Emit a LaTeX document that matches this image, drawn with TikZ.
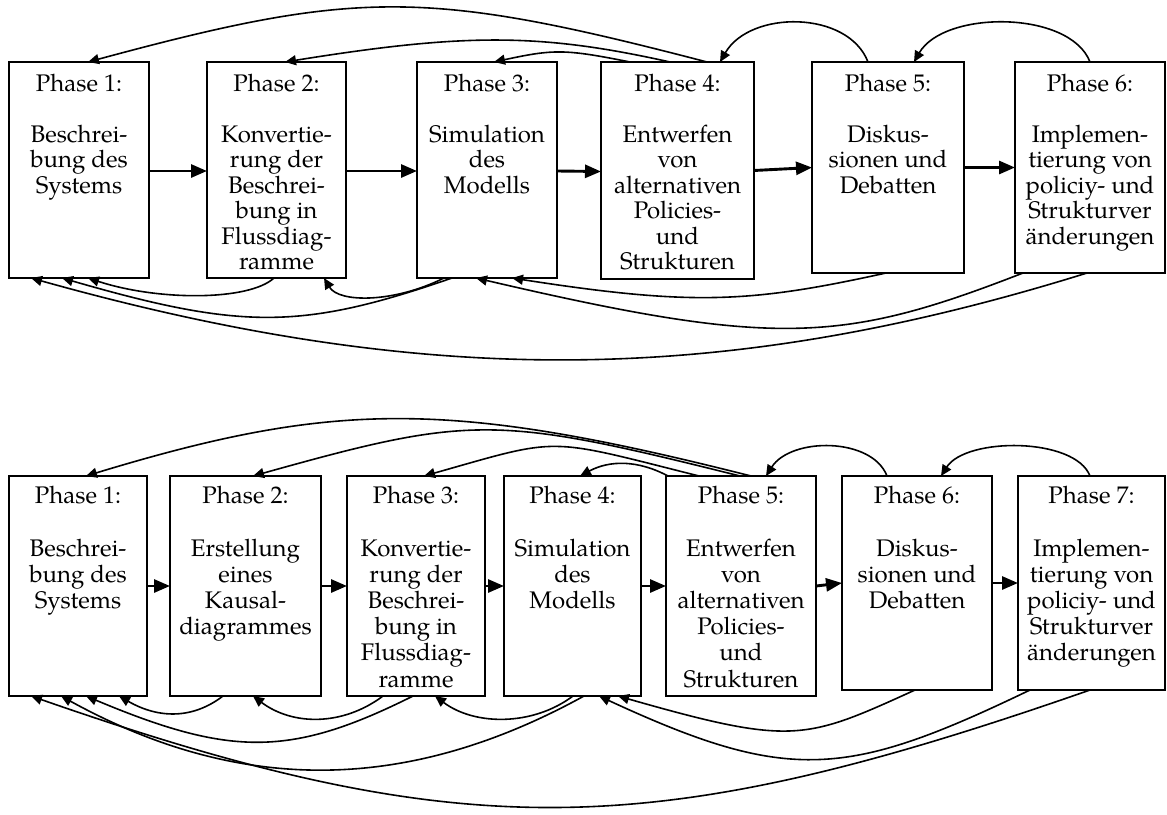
\documentclass[tikz,border=0pt]{standalone}
\usepackage{fontspec}
\setmainfont{TeX Gyre Pagella}
\usetikzlibrary{arrows.meta}
\begin{document}
\begin{tikzpicture}[x=1pt,y=-1pt,
  box/.style={draw, line width=2.9pt, inner sep=0pt, outer sep=0pt, anchor=north west},
  txt/.style={align=center, inner sep=0pt, anchor=north, font=\fontsize{24}{25.4}\selectfont},
  txtb/.style={align=center, inner sep=0pt, anchor=north, font=\fontsize{24}{26.2}\selectfont},
  flow/.style={line width=2.9pt, -{Triangle[length=16pt,width=13pt]}},
  fb/.style={line width=1.6pt, -{Triangle[length=11pt,width=10pt]}},
]
\fill[white] (0,0) rectangle (1167,814);
\useasboundingbox (0,0) rectangle (1167,814);

% ---------- upper process: six phases ----------
\node[box, minimum width=140pt, minimum height=216pt] (T1) at (9,62) {};
\node[box, minimum width=139pt, minimum height=216pt] (T2) at (207,62) {};
\node[box, minimum width=140pt, minimum height=216pt] (T3) at (417,62) {};
\node[box, minimum width=153pt, minimum height=217pt] (T4) at (601,62) {};
\node[box, minimum width=152pt, minimum height=211pt] (T5) at (812,62) {};
\node[box, minimum width=150pt, minimum height=211pt] (T6) at (1015,62) {};

\node[txt] (T1t) at ([yshift=-12pt]T1.north) {Phase 1:\\[25.4pt]Beschrei-\\bung des\\Systems};
\node[txt] (T2t) at ([yshift=-12pt]T2.north) {Phase 2:\\[25.4pt]Konvertie-\\rung der\\Beschrei-\\bung in\\Flussdiag-\\ramme};
\node[txt] (T3t) at ([yshift=-12pt]T3.north) {Phase 3:\\[25.4pt]Simulation\\des\\Modells};
\node[txt] (T4t) at ([yshift=-12pt]T4.north) {Phase 4:\\[25.4pt]Entwerfen\\von\\alternativen\\Policies-\\und\\Strukturen};
\node[txt] (T5t) at ([yshift=-12pt]T5.north) {Phase 5:\\[25.4pt]Diskus-\\sionen und\\Debatten};
\node[txt] (T6t) at ([yshift=-12pt]T6.north) {Phase 6:\\[25.4pt]Implemen-\\tierung von\\policiy- und\\Strukturver\\änderungen};

\draw[flow] ([yshift=-1pt]T1.east) -- ([yshift=-1pt]T2.west);
\draw[flow] ([yshift=-1pt]T2.east) -- ([yshift=-1pt]T3.west);
\draw[flow] ([yshift=-1pt]T3.east) -- ([yshift=-1pt]T4.west);
\draw[flow] (T4.east) -- (T5.west);
\draw[flow] (T5.east) -- (T6.west);

% feedback over the top
\draw[fb] ([xshift=106pt]T4.north west) .. controls +(-280,-73) and +(270,-73) .. ([xshift=79pt]T1.north west);
\draw[fb] ([xshift=69pt]T4.north west) .. controls +(-130,-29) and +(180,-29) .. ([xshift=78pt]T2.north west);
\draw[fb] ([xshift=29pt]T4.north west) .. controls +(-65,-13) and +(60,-13) .. ([xshift=77pt]T3.north west);
\draw[fb] ([xshift=56pt]T5.north west) .. controls +(-20,-52) and +(30,-52) .. ([xshift=119pt]T4.north west);
\draw[fb] ([xshift=75pt]T6.north west) .. controls +(-20,-52) and +(30,-52) .. ([xshift=102pt]T5.north west);

% feedback underneath
\draw[fb] ([xshift=67pt]T2.south west) .. controls +(-25,23) and +(70,23) .. ([xshift=79pt]T1.south west);
\draw[fb] ([xshift=27pt]T3.south west) .. controls +(-50,25) and +(15,25) .. ([xshift=117pt]T2.south west);
\draw[fb] ([xshift=35pt]T3.south west) .. controls +(-150,52) and +(180,52) .. ([xshift=53pt]T1.south west);
\draw[fb] ([xshift=74pt]T5.south west) .. controls +(-136,30) and +(180,28) .. ([xshift=95pt]T3.south west);
\draw[fb] ([xshift=8pt]T6.south west) .. controls +(-180,70) and +(300,70) .. ([xshift=59pt]T3.south west);
\draw[fb] ([xshift=72pt]T6.south west) .. controls +(-360,112) and +(400,112) .. ([xshift=22pt]T1.south west);

% ---------- lower process: seven phases ----------
\node[box, minimum width=138pt, minimum height=220pt] (U1) at (9,476) {};
\node[box, minimum width=151pt, minimum height=220pt] (U2) at (170,476) {};
\node[box, minimum width=138pt, minimum height=220pt] (U3) at (347,476) {};
\node[box, minimum width=137pt, minimum height=220pt] (U4) at (504,476) {};
\node[box, minimum width=150pt, minimum height=220pt] (U5) at (666,476) {};
\node[box, minimum width=150pt, minimum height=214pt] (U6) at (842,476) {};
\node[box, minimum width=147pt, minimum height=214pt] (U7) at (1018,476) {};

\node[txtb] (U1t) at ([yshift=-10pt]U1.north) {Phase 1:\\[26.2pt]Beschrei-\\bung des\\Systems};
\node[txtb] (U2t) at ([yshift=-10pt]U2.north) {Phase 2:\\[26.2pt]Erstellung\\eines\\Kausal-\\diagrammes};
\node[txtb] (U3t) at ([yshift=-10pt]U3.north) {Phase 3:\\[26.2pt]Konvertie-\\rung der\\Beschrei-\\bung in\\Flussdiag-\\ramme};
\node[txtb] (U4t) at ([yshift=-10pt]U4.north) {Phase 4:\\[26.2pt]Simulation\\des\\Modells};
\node[txtb] (U5t) at ([yshift=-10pt]U5.north) {Phase 5:\\[26.2pt]Entwerfen\\von\\alternativen\\Policies-\\und\\Strukturen};
\node[txtb] (U6t) at ([yshift=-10pt]U6.north) {Phase 6:\\[26.2pt]Diskus-\\sionen und\\Debatten};
\node[txtb] (U7t) at ([yshift=-10pt]U7.north) {Phase 7:\\[26.2pt]Implemen-\\tierung von\\policiy- und\\Strukturver\\änderungen};

\draw[flow] (U1.east) -- (U2.west);
\draw[flow] (U2.east) -- (U3.west);
\draw[flow] (U3.east) -- (U4.west);
\draw[flow] (U4.east) -- (U5.west);
\draw[flow] (U5.east) -- (U6.west);
\draw[flow] (U6.east) -- (U7.west);

% feedback over the top
\draw[fb] ([xshift=85pt]U5.north west) .. controls +(-300,-76) and +(250,-76) .. ([xshift=77pt]U1.north west);
\draw[fb] ([xshift=74pt]U5.north west) .. controls +(-244,-61) and +(218,-61) .. ([xshift=83pt]U2.north west);
\draw[fb] ([xshift=33pt]U5.north west) .. controls +(-155,-39) and +(138,-39) .. ([xshift=77pt]U3.north west);
\draw[fb] ([xshift=2pt]U5.north west) .. controls +(-30,-16) and +(30,-16) .. ([xshift=76pt]U4.north west);
\draw[fb] ([xshift=45pt]U6.north west) .. controls +(-15,-39) and +(25,-39) .. ([xshift=100pt]U5.north west);
\draw[fb] ([xshift=72pt]U7.north west) .. controls +(-15,-39) and +(25,-39) .. ([xshift=99pt]U6.north west);

% feedback underneath
\draw[fb] ([xshift=53pt]U2.south west) .. controls +(-30,23) and +(40,23) .. ([xshift=110pt]U1.south west);
\draw[fb] ([xshift=36pt]U3.south west) .. controls +(-40,30) and +(40,30) .. ([xshift=83pt]U2.south west);
\draw[fb] ([xshift=66pt]U3.south west) .. controls +(-122,61) and +(145,61) .. ([xshift=77pt]U1.south west);
\draw[fb] ([xshift=69pt]U4.south west) .. controls +(-40,30) and +(40,30) .. ([xshift=88pt]U3.south west);
\draw[fb] ([xshift=80pt]U4.south west) .. controls +(-178,98) and +(178,98) .. ([xshift=52pt]U1.south west);
\draw[fb] ([xshift=73pt]U6.south west) .. controls +(-110,50) and +(175,50) .. ([xshift=114pt]U4.south west);
\draw[fb] ([xshift=12pt]U7.south west) .. controls +(-183,88) and +(190,88) .. ([xshift=95pt]U4.south west);
\draw[fb] ([xshift=72pt]U7.south west) .. controls +(-436,152) and +(436,152) .. ([xshift=22pt]U1.south west);
\end{tikzpicture}
\end{document}
